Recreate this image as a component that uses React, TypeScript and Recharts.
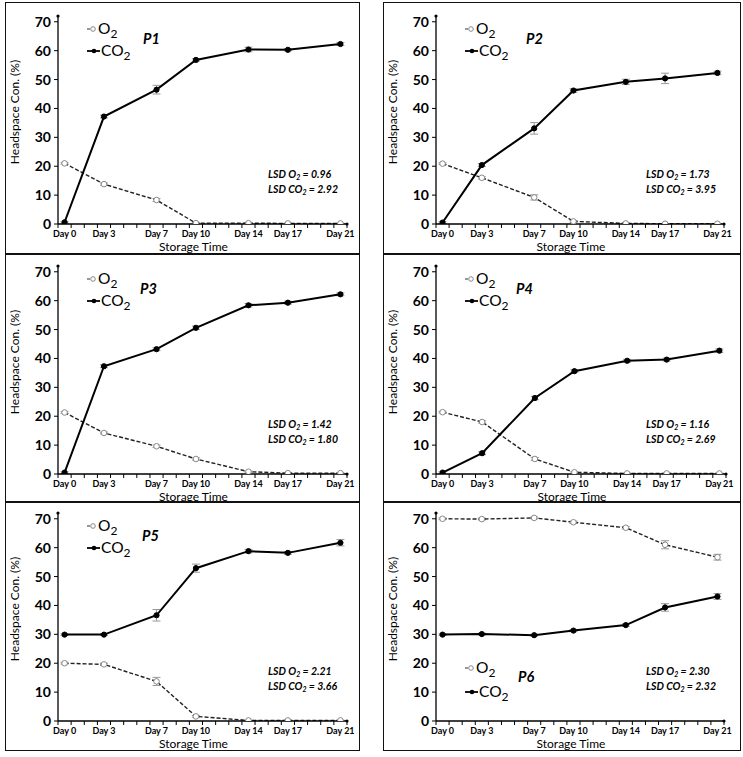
import { ErrorBar, Line, LineChart, XAxis, YAxis } from 'recharts'

const days = [0, 3, 7, 10, 14, 17, 21]
const dayLabels = ['Day 0', 'Day 3', 'Day 7', 'Day 10', 'Day 14', 'Day 17', 'Day 21']
const minorTicks = [
	-0.5, 0.5, 1.5, 2.5, 3.5, 4.5, 5.5, 6.5, 7.5, 8.5, 9.5, 10.5, 11.5, 12.5, 13.5, 14.5, 15.5, 16.5, 17.5, 18.5,
	19.5, 20.5, 21.5,
]
const yTicks = [0, 10, 20, 30, 40, 50, 60, 70]

const p1O2 = [21.0, 13.8, 8.3, 0.3, 0.3, 0.2, 0.2]
const p1CO2 = [0.6, 37.2, 46.5, 56.8, 60.4, 60.3, 62.3]
const p1O2Err = [0.3, 0.4, 0.5, 0.2, 0.2, 0.1, 0.1]
const p1CO2Err = [0.3, 0.5, 1.5, 0.4, 0.8, 0.4, 0.5]

const p2O2 = [20.9, 16.0, 9.2, 0.9, 0.2, 0.1, 0.1]
const p2CO2 = [0.5, 20.4, 33.1, 46.2, 49.2, 50.4, 52.3]
const p2O2Err = [0.3, 0.4, 0.9, 0.3, 0.1, 0.1, 0.1]
const p2CO2Err = [0.3, 0.5, 2.0, 0.6, 0.9, 1.8, 0.6]

const p3O2 = [21.3, 14.2, 9.6, 5.2, 0.8, 0.3, 0.3]
const p3CO2 = [0.5, 37.3, 43.2, 50.6, 58.4, 59.3, 62.2]
const p3O2Err = [0.3, 0.3, 0.4, 0.4, 0.2, 0.1, 0.1]
const p3CO2Err = [0.3, 0.5, 0.5, 0.6, 0.6, 0.5, 0.5]

const p4O2 = [21.4, 18.0, 5.2, 0.6, 0.2, 0.2, 0.2]
const p4CO2 = [0.5, 7.2, 26.3, 35.6, 39.2, 39.6, 42.7]
const p4O2Err = [0.3, 0.4, 0.5, 0.2, 0.1, 0.1, 0.1]
const p4CO2Err = [0.3, 0.5, 0.6, 0.5, 0.5, 0.5, 0.6]

const p5O2 = [20.0, 19.6, 13.7, 1.6, 0.2, 0.2, 0.2]
const p5CO2 = [29.9, 29.9, 36.6, 52.9, 58.8, 58.2, 61.7]
const p5O2Err = [0.3, 0.4, 1.4, 0.3, 0.1, 0.1, 0.1]
const p5CO2Err = [0.3, 0.3, 2.0, 1.4, 0.6, 0.5, 1.1]

const p6O2 = [70.0, 69.9, 70.3, 68.8, 66.9, 61.0, 56.7]
const p6CO2 = [29.9, 30.1, 29.7, 31.3, 33.2, 39.3, 43.1]
const p6O2Err = [0.3, 0.3, 0.3, 0.4, 0.4, 1.4, 1.0]
const p6CO2Err = [0.3, 0.3, 0.3, 0.4, 0.4, 1.3, 1.0]

const panelNames = ['P1', 'P2', 'P3', 'P4', 'P5', 'P6']
const lsdO2 = ['0.96', '1.73', '1.42', '1.16', '2.21', '2.30']
const lsdCO2 = ['2.92', '3.95', '1.80', '2.69', '3.66', '2.32']

const FONT = 'Lato, "Open Sans", sans-serif'
const AXIS_W = 53

// box placement and inner margins per panel
const layouts = [
	{ x: 5, y: 2, w: 355, h: 252, top: 14, right: 13, bottom: 30, labelDx: 85, legendLow: false },
	{ x: 383, y: 2, w: 358, h: 252, top: 14, right: 17, bottom: 30, labelDx: 90, legendLow: false },
	{ x: 5, y: 254, w: 355, h: 248, top: 12, right: 13, bottom: 28, labelDx: 82, legendLow: false },
	{ x: 383, y: 254, w: 358, h: 248, top: 12, right: 15, bottom: 28, labelDx: 80, legendLow: false },
	{ x: 5, y: 502, w: 355, h: 249, top: 11, right: 13, bottom: 30, labelDx: 84, legendLow: false },
	{ x: 383, y: 502, w: 358, h: 249, top: 11, right: 17, bottom: 30, labelDx: 82, legendLow: true },
]

function XTick(props: any) {
	const { x, y, payload } = props
	const i = days.indexOf(payload.value)
	if (i < 0) return <line x1={x} x2={x} y1={y} y2={y + 4} stroke="#000" strokeWidth={1} />
	return (
		<text x={x} y={y + 13} textAnchor="middle" fontSize={9} fontWeight="bold" fontFamily={FONT} fill="#000">
			{dayLabels[i]}
		</text>
	)
}

function Sub({ main, sub, shift, subSize }: { main: string; sub: string; shift: number; subSize: number }) {
	return (
		<>
			{main}
			<tspan dy={shift} fontSize={subSize}>
				{sub}
			</tspan>
		</>
	)
}

function Panel({ idx, o2, co2, o2Err, co2Err }: any) {
	const lay = layouts[idx]
	const data = days.map((d, i) => ({ day: d, o2: o2[i], co2: co2[i], o2Err: o2Err[i], co2Err: co2Err[i] }))
	const L = AXIS_W
	const y0 = lay.h - lay.bottom
	const plotW = lay.w - L - lay.right
	const legO2Y = lay.legendLow ? y0 - 53 : y0 - 195
	const legCO2Y = lay.legendLow ? y0 - 29 : y0 - 173
	const labelY = lay.legendLow ? y0 - 44 : y0 - 185
	return (
		<div style={{ position: 'absolute', left: lay.x, top: lay.y, width: lay.w, height: lay.h }}>
			<LineChart width={lay.w} height={lay.h} data={data} margin={{ top: lay.top, right: lay.right, bottom: 0, left: 0 }}>
				<XAxis
					type="number"
					dataKey="day"
					domain={[-0.5, 21.5]}
					ticks={[...minorTicks, ...days]}
					interval={0}
					tick={<XTick />}
					tickLine={false}
					tickSize={0}
					tickMargin={0}
					height={lay.bottom}
					axisLine={{ stroke: '#000', strokeWidth: 1.3 }}
					allowDataOverflow
				/>
				<YAxis
					type="number"
					domain={[0, 72]}
					ticks={yTicks}
					interval={0}
					width={L}
					tickSize={4}
					tickMargin={3}
					tick={{ fontSize: 14, fontWeight: 'bold', fill: '#000', fontFamily: FONT }}
					tickLine={{ stroke: '#000' }}
					axisLine={{ stroke: '#000', strokeWidth: 1.3 }}
					allowDataOverflow
				/>
				<Line
					dataKey="o2"
					stroke="#222"
					strokeWidth={1.4}
					strokeDasharray="4 2"
					dot={{ r: 2.8, fill: '#fff', stroke: '#888', strokeWidth: 1, strokeDasharray: '' }}
					isAnimationActive={false}
				>
					<ErrorBar dataKey="o2Err" direction="y" width={4} stroke="#999" strokeWidth={1} />
				</Line>
				<Line
					dataKey="co2"
					stroke="#000"
					strokeWidth={2}
					dot={{ r: 2.6, fill: '#000', stroke: '#000', strokeWidth: 1 }}
					isAnimationActive={false}
				>
					<ErrorBar dataKey="co2Err" direction="y" width={4} stroke="#999" strokeWidth={1} />
				</Line>

				<circle cx={L} cy={lay.top} r={1.6} fill="#000" />
				<circle cx={L + plotW} cy={y0} r={1.6} fill="#000" />

				<text
					transform={`translate(10, ${y0 - 112}) rotate(-90)`}
					textAnchor="middle"
					dy={4}
					fontSize={12}
					fontFamily={FONT}
					fill="#000"
				>
					Headspace Con. (%)
				</text>
				<text x={L + plotW / 2 - 9} y={y0 + 26.5} textAnchor="middle" fontSize={12} fontFamily={FONT} fill="#000">
					Storage Time
				</text>

				<line x1={L + 29} x2={L + 39} y1={legO2Y} y2={legO2Y} stroke="#333" strokeWidth={1.2} strokeDasharray="3 2" />
				<circle cx={L + 35} cy={legO2Y} r={2.3} fill="#fff" stroke="#888" />
				<text x={L + 40} y={legO2Y + 5} fontSize={15.5} fontFamily={FONT} fill="#000">
					<Sub main="O" sub="2" shift={4} subSize={12} />
				</text>
				<line x1={L + 29} x2={L + 42} y1={legCO2Y} y2={legCO2Y} stroke="#000" strokeWidth={1.8} />
				<circle cx={L + 36} cy={legCO2Y} r={2.3} fill="#000" />
				<text x={L + 43} y={legCO2Y + 5} fontSize={15.5} fontFamily={FONT} fill="#000">
					<Sub main="CO" sub="2" shift={4} subSize={12} />
				</text>

				<text
					x={L + lay.labelDx}
					y={labelY + 5}
					fontSize={14.5}
					fontWeight="bold"
					fontStyle="italic"
					fontFamily={FONT}
					fill="#000"
				>
					{panelNames[idx]}
				</text>

				<text x={L + 210} y={y0 - 46} fontSize={10.5} fontWeight="bold" fontStyle="italic" fontFamily={FONT} fill="#000">
					LSD O
					<tspan dy={2} fontSize={7}>
						2
					</tspan>
					<tspan dy={-2}>{` = ${lsdO2[idx]}`}</tspan>
				</text>
				<text x={L + 210} y={y0 - 31} fontSize={10.5} fontWeight="bold" fontStyle="italic" fontFamily={FONT} fill="#000">
					LSD CO
					<tspan dy={2} fontSize={7}>
						2
					</tspan>
					<tspan dy={-2}>{` = ${lsdCO2[idx]}`}</tspan>
				</text>
			</LineChart>
			<div
				style={{
					position: 'absolute',
					left: 0,
					top: 0,
					width: lay.w,
					height: lay.h,
					boxSizing: 'border-box',
					border: '1.5px solid #111',
					pointerEvents: 'none',
				}}
			/>
		</div>
	)
}

export default function App() {
	return (
		<div style={{ position: 'absolute', left: 0, top: 0, width: 743, height: 757, background: '#fff' }}>
			<Panel idx={0} o2={p1O2} co2={p1CO2} o2Err={p1O2Err} co2Err={p1CO2Err} />
			<Panel idx={1} o2={p2O2} co2={p2CO2} o2Err={p2O2Err} co2Err={p2CO2Err} />
			<Panel idx={2} o2={p3O2} co2={p3CO2} o2Err={p3O2Err} co2Err={p3CO2Err} />
			<Panel idx={3} o2={p4O2} co2={p4CO2} o2Err={p4O2Err} co2Err={p4CO2Err} />
			<Panel idx={4} o2={p5O2} co2={p5CO2} o2Err={p5O2Err} co2Err={p5CO2Err} />
			<Panel idx={5} o2={p6O2} co2={p6CO2} o2Err={p6O2Err} co2Err={p6CO2Err} />
		</div>
	)
}
